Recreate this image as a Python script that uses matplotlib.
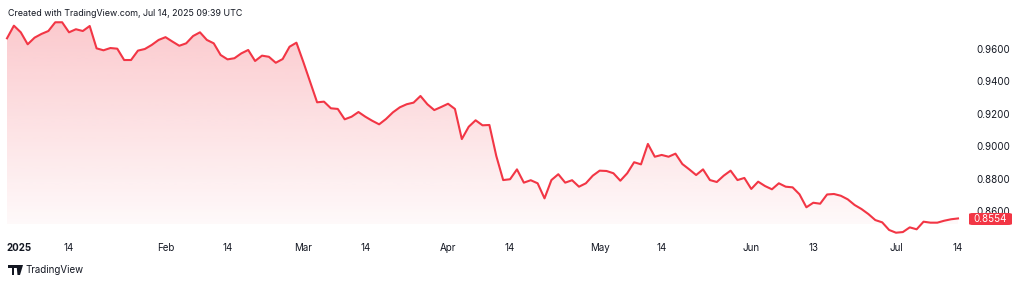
import numpy as np
import pandas as pd
import matplotlib
matplotlib.use("Agg")
import matplotlib.pyplot as plt
from matplotlib.patches import Rectangle, Polygon, FancyBboxPatch

plt.rcParams['font.family'] = ['Inter', 'DejaVu Sans']

# ---- data (daily closes) ----
dates = pd.bdate_range('2025-01-01', '2025-07-14')
values = [
    0.9666, 0.9744, 0.9703, 0.9629, 0.9670, 0.9693, 0.9711, 0.9765, 0.9765, 0.9703,
    0.9722, 0.9711, 0.9742, 0.9604, 0.9592, 0.9606, 0.9602, 0.9532, 0.9532, 0.9590,
    0.9600, 0.9625, 0.9656, 0.9673, 0.9646, 0.9620, 0.9635, 0.9680, 0.9703, 0.9656,
    0.9635, 0.9563, 0.9536, 0.9543, 0.9573, 0.9594, 0.9526, 0.9559, 0.9552, 0.9515,
    0.9538, 0.9614, 0.9639, 0.9520, 0.9396, 0.9271, 0.9275, 0.9234, 0.9230, 0.9166,
    0.9182, 0.9211, 0.9182, 0.9157, 0.9135, 0.9168, 0.9209, 0.9240, 0.9259, 0.9269,
    0.9310, 0.9259, 0.9223, 0.9242, 0.9262, 0.9230, 0.9044, 0.9120, 0.9160, 0.9129,
    0.9131, 0.8940, 0.8791, 0.8796, 0.8857, 0.8775, 0.8790, 0.8771, 0.8678, 0.8791,
    0.8827, 0.8775, 0.8790, 0.8750, 0.8771, 0.8818, 0.8849, 0.8847, 0.8833, 0.8787,
    0.8833, 0.8901, 0.8888, 0.9014, 0.8935, 0.8946, 0.8935, 0.8954, 0.8890, 0.8857,
    0.8822, 0.8857, 0.8791, 0.8779, 0.8818, 0.8849, 0.8791, 0.8804, 0.8736, 0.8781,
    0.8754, 0.8734, 0.8771, 0.8750, 0.8746, 0.8703, 0.8623, 0.8651, 0.8645, 0.8702,
    0.8705, 0.8694, 0.8672, 0.8637, 0.8612, 0.8581, 0.8544, 0.8530, 0.8483, 0.8466,
    0.8470, 0.8499, 0.8487, 0.8534, 0.8528, 0.8528, 0.8540, 0.8549, 0.8554,
]
tick_dates = ['2025-01-01', '2025-01-14', '2025-02-03', '2025-02-14', '2025-03-03',
              '2025-03-14', '2025-04-01', '2025-04-14', '2025-05-01', '2025-05-14',
              '2025-06-02', '2025-06-13', '2025-07-01', '2025-07-14']
tick_labels = ['2025', '14', 'Feb', '14', 'Mar', '14', 'Apr', '14', 'May', '14',
               'Jun', '13', 'Jul', '14']
y_ticks = [0.86, 0.88, 0.90, 0.92, 0.94, 0.96]
last_label = '0.8554'
title_text = 'Created with TradingView.com, Jul 14, 2025 09:39 UTC'
brand_text = 'TradingView'

RED = '#F23645'
TXT = '#131722'

W, H = 1024, 283
fig = plt.figure(figsize=(W / 100, H / 100), dpi=100)
fig.patch.set_facecolor('white')

ax_left, ax_right = 0, 965
ax_top, ax_bot = 5, 237
ax = fig.add_axes([ax_left / W, 1 - ax_bot / H, (ax_right - ax_left) / W, (ax_bot - ax_top) / H])
ax.set_facecolor('white')

x = np.arange(len(values))
v = np.array(values)

pxu = 951 / 138
xmin = -7 / pxu
xmax = xmin + (ax_right - ax_left) / pxu
ax.set_xlim(xmin, xmax)

def y2v(yp):
    return 0.96 - (yp - 49) / 1620.0

ax.set_ylim(y2v(ax_bot), y2v(ax_top))

# gradient fill under the line
fill_bottom = y2v(224)
grad_top = y2v(20)
poly = ax.fill_between(x, v, y2v(ax_bot), facecolor='none', edgecolor='none')
n = 256
alpha = np.linspace(0.27, 0.03, n)[:, None]
rgba = np.zeros((n, 1, 4))
rgba[..., 0] = 242 / 255
rgba[..., 1] = 54 / 255
rgba[..., 2] = 69 / 255
rgba[..., 3] = alpha
im = ax.imshow(rgba, extent=[x[0], x[-1], fill_bottom, grad_top], aspect='auto',
               origin='upper', interpolation='bilinear', zorder=1)
clip = poly.get_paths()[0]
im.set_clip_path(clip, transform=ax.transData)

ax.plot(x, v, color=RED, lw=1.5, solid_joinstyle='round', zorder=3)

for s in ax.spines.values():
    s.set_visible(False)

# x ticks
tick_idx = [int(dates.get_loc(pd.Timestamp(d))) for d in tick_dates]
ax.set_xticks(tick_idx)
ax.set_xticklabels(tick_labels)
ax.tick_params(axis='x', length=0, pad=4, labelsize=7, labelcolor=TXT)
lbls = ax.get_xticklabels()
lbls[0].set_fontweight('bold')
lbls[0].set_horizontalalignment('left')
lbls[0].set_x(tick_idx[0] + 1 / pxu)

# y ticks on right
ax.yaxis.tick_right()
ax.set_yticks(y_ticks)
ax.set_yticklabels([f'{t:.4f}' for t in y_ticks])
ax.tick_params(axis='y', length=0, pad=8.5, labelsize=7, labelcolor=TXT)

# last price tag
yc = 219
fig.add_artist(FancyBboxPatch((969 / W, 1 - 225 / H), 43 / W, 12 / H,
                              boxstyle='round,pad=0,rounding_size=0.004',
                              transform=fig.transFigure, facecolor=RED, edgecolor='none', zorder=5))
fig.text(990.5 / W, 1 - yc / H, last_label, color='white', fontsize=7,
         ha='center', va='center', zorder=6)

# header text
fig.text(8 / W, 1 - 13 / H, title_text, fontsize=6.4, color=TXT, ha='left', va='center')

# TradingView logo (simple shapes) + text
def fx(p):
    return p / W

def fy(p):
    return 1 - p / H

fig.add_artist(Rectangle((fx(8), fy(268)), 7 / W, 3 / H, transform=fig.transFigure,
                         facecolor=TXT, edgecolor='none'))
fig.add_artist(Rectangle((fx(11.5), fy(275)), 2.6 / W, 8 / H, transform=fig.transFigure,
                         facecolor=TXT, edgecolor='none'))
fig.add_artist(Polygon([(fx(16.5), fy(265)), (fx(23), fy(265)), (fx(20), fy(275)), (fx(17.5), fy(275))],
                       closed=True, transform=fig.transFigure, facecolor=TXT, edgecolor='none'))
fig.add_artist(Rectangle((fx(14.5), fy(268)), 2.4 / W, 3 / H, transform=fig.transFigure,
                         facecolor=TXT, edgecolor='none'))
fig.text(25 / W, 1 - 270 / H, brand_text, fontsize=7, color=TXT, ha='left', va='center')

fig.savefig('out.png', dpi=100, facecolor='white')
